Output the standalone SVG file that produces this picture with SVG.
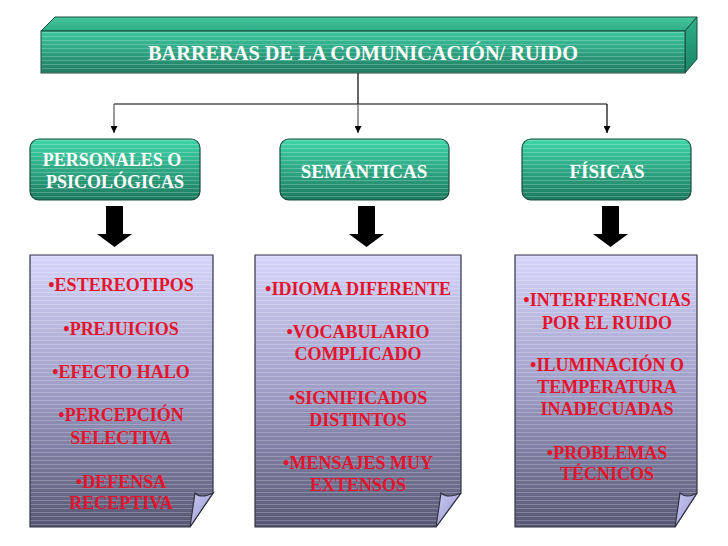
<svg xmlns="http://www.w3.org/2000/svg" width="728" height="546" viewBox="0 0 728 546">
<defs>
  <linearGradient id="gFront" x1="0" y1="0" x2="0" y2="1">
    <stop offset="0" stop-color="#3cc89f"/>
    <stop offset="1" stop-color="#1f7c61"/>
  </linearGradient>
  <linearGradient id="gTop" x1="0" y1="1" x2="0" y2="0">
    <stop offset="0" stop-color="#2fae87"/>
    <stop offset="1" stop-color="#45c69c"/>
  </linearGradient>
  <linearGradient id="gSide" x1="0" y1="0" x2="0" y2="1">
    <stop offset="0" stop-color="#2bb08a"/>
    <stop offset="1" stop-color="#1d8465"/>
  </linearGradient>
  <linearGradient id="gBox" x1="0" y1="0" x2="0" y2="1">
    <stop offset="0" stop-color="#3ed6a7"/>
    <stop offset="1" stop-color="#1d7a5f"/>
  </linearGradient>
  <linearGradient id="gDoc" x1="0" y1="0" x2="0" y2="1">
    <stop offset="0" stop-color="#d6d6fb"/>
    <stop offset="0.5" stop-color="#9d9dc6"/>
    <stop offset="1" stop-color="#575774"/>
  </linearGradient>
  <linearGradient id="gFlap" x1="0" y1="0" x2="1" y2="1">
    <stop offset="0" stop-color="#c8c8f2"/>
    <stop offset="1" stop-color="#9898d0"/>
  </linearGradient>
  <pattern id="stripes" width="8" height="4" patternUnits="userSpaceOnUse">
    <rect x="0" y="0" width="8" height="1" fill="#ffffff" fill-opacity="0.22"/>
  </pattern>
  <marker id="tip" viewBox="0 0 8 8" refX="8" refY="4" markerWidth="7" markerHeight="7" markerUnits="userSpaceOnUse" orient="auto">
    <path d="M0,0 L8,4 L0,8 Z" fill="#000"/>
  </marker>
</defs>
<style>
  .title{font-family:"Liberation Serif","Times New Roman",serif;font-weight:bold;font-size:22px;fill:#ffffff;text-anchor:middle}
  .cat{font-family:"Liberation Serif","Times New Roman",serif;font-weight:bold;font-size:19px;fill:#ffffff;text-anchor:middle}
  .cat2{font-family:"Liberation Serif","Times New Roman",serif;font-weight:bold;font-size:18px;fill:#ffffff;text-anchor:middle}
  .item{font-family:"Liberation Serif","Times New Roman",serif;font-weight:bold;font-size:18px;fill:#e3142c;text-anchor:middle}
  .edge{stroke:#000;stroke-width:1.2;fill:none}
  .edgeg{stroke:#555;stroke-width:1.2;fill:none}
  .box{stroke:#1a4d3d;stroke-width:1.2}
  .doc{stroke:#333344;stroke-width:1.2}
  .blk{fill:#000}
</style>

<g id="connectors">
  <line class="edge" x1="358" y1="73" x2="358" y2="104"/>
  <line class="edge" x1="114" y1="104" x2="607" y2="104"/>
  <line class="edgeg" x1="114" y1="104" x2="114" y2="133" marker-end="url(#tip)"/>
  <line class="edgeg" x1="358" y1="104" x2="358" y2="133" marker-end="url(#tip)"/>
  <line class="edge" x1="607" y1="104" x2="607" y2="133" marker-end="url(#tip)"/>
  <polygon class="blk" points="106,206 123,206 123,234 132,234 114.5,247 97,234 106,234"/>
  <polygon class="blk" points="358,206 375,206 375,234 384,234 366.5,247 349,234 358,234"/>
  <polygon class="blk" points="602,206 619,206 619,234 628,234 610.5,247 593,234 602,234"/>
</g>

<g id="title">
  <polygon points="41,31 55,17 697,17 685,31" fill="url(#gTop)" stroke="#1a4d3d" stroke-width="1"/>
  <polygon points="685,31 697,17 697,59 685,73" fill="url(#gSide)" stroke="#1a4d3d" stroke-width="1"/>
  <rect x="41" y="31" width="644" height="42" fill="url(#gFront)"/>
  <rect x="41" y="31" width="644" height="42" fill="url(#stripes)" stroke="#1a4d3d" stroke-width="1"/>
  <text class="title" x="363" y="60" textLength="430" lengthAdjust="spacingAndGlyphs">BARRERAS DE LA COMUNICACIÓN/ RUIDO</text>
</g>

<g id="personales">
  <rect x="30" y="139" width="170" height="61" rx="9" fill="url(#gBox)"/>
  <rect class="box" x="30" y="139" width="170" height="61" rx="9" fill="url(#stripes)"/>
  <text class="cat2" x="112" y="166">PERSONALES O</text>
  <text class="cat2" x="115" y="188">PSICOLÓGICAS</text>
</g>

<g id="semanticas">
  <rect x="280" y="139" width="169" height="61" rx="9" fill="url(#gBox)"/>
  <rect class="box" x="280" y="139" width="169" height="61" rx="9" fill="url(#stripes)"/>
  <text class="cat" x="364" y="178">SEMÁNTICAS</text>
</g>

<g id="fisicas">
  <rect x="522" y="139" width="169" height="61" rx="9" fill="url(#gBox)"/>
  <rect class="box" x="522" y="139" width="169" height="61" rx="9" fill="url(#stripes)"/>
  <text class="cat" x="607" y="178">FÍSICAS</text>
</g>

<g id="doc-personales">
  <path d="M30,255 H213 V493 L190,527 H30 Z" fill="url(#gDoc)"/>
  <path class="doc" d="M30,255 H213 V493 L190,527 H30 Z" fill="url(#stripes)"/>
  <path class="doc" d="M190,527 L195,493 Q201,499 213,493 Z" fill="url(#gFlap)"/>
  <text class="item" x="121" y="291">•ESTEREOTIPOS</text>
  <text class="item" x="121" y="335">•PREJUICIOS</text>
  <text class="item" x="121" y="378">•EFECTO HALO</text>
  <text class="item" x="121" y="421">•PERCEPCIÓN</text>
  <text class="item" x="121" y="444">SELECTIVA</text>
  <text class="item" x="121" y="488">•DEFENSA</text>
  <text class="item" x="121" y="509">RECEPTIVA</text>
</g>

<g id="doc-semanticas">
  <path d="M255,255 H461 V493 L436,527 H255 Z" fill="url(#gDoc)"/>
  <path class="doc" d="M255,255 H461 V493 L436,527 H255 Z" fill="url(#stripes)"/>
  <path class="doc" d="M436,527 L441,493 Q448,499 461,493 Z" fill="url(#gFlap)"/>
  <text class="item" x="358" y="295">•IDIOMA DIFERENTE</text>
  <text class="item" x="358" y="338">•VOCABULARIO</text>
  <text class="item" x="358" y="360">COMPLICADO</text>
  <text class="item" x="358" y="404">•SIGNIFICADOS</text>
  <text class="item" x="358" y="426">DISTINTOS</text>
  <text class="item" x="358" y="469">•MENSAJES MUY</text>
  <text class="item" x="358" y="491">EXTENSOS</text>
</g>

<g id="doc-fisicas">
  <path d="M515,255 H697 V493 L675,527 H515 Z" fill="url(#gDoc)"/>
  <path class="doc" d="M515,255 H697 V493 L675,527 H515 Z" fill="url(#stripes)"/>
  <path class="doc" d="M675,527 L680,493 Q687,499 697,493 Z" fill="url(#gFlap)"/>
  <text class="item" x="607" y="306">•INTERFERENCIAS</text>
  <text class="item" x="607" y="329">POR EL RUIDO</text>
  <text class="item" x="607" y="371">•ILUMINACIÓN O</text>
  <text class="item" x="607" y="393">TEMPERATURA</text>
  <text class="item" x="607" y="415">INADECUADAS</text>
  <text class="item" x="607" y="459">•PROBLEMAS</text>
  <text class="item" x="607" y="480">TÉCNICOS</text>
</g>
</svg>
